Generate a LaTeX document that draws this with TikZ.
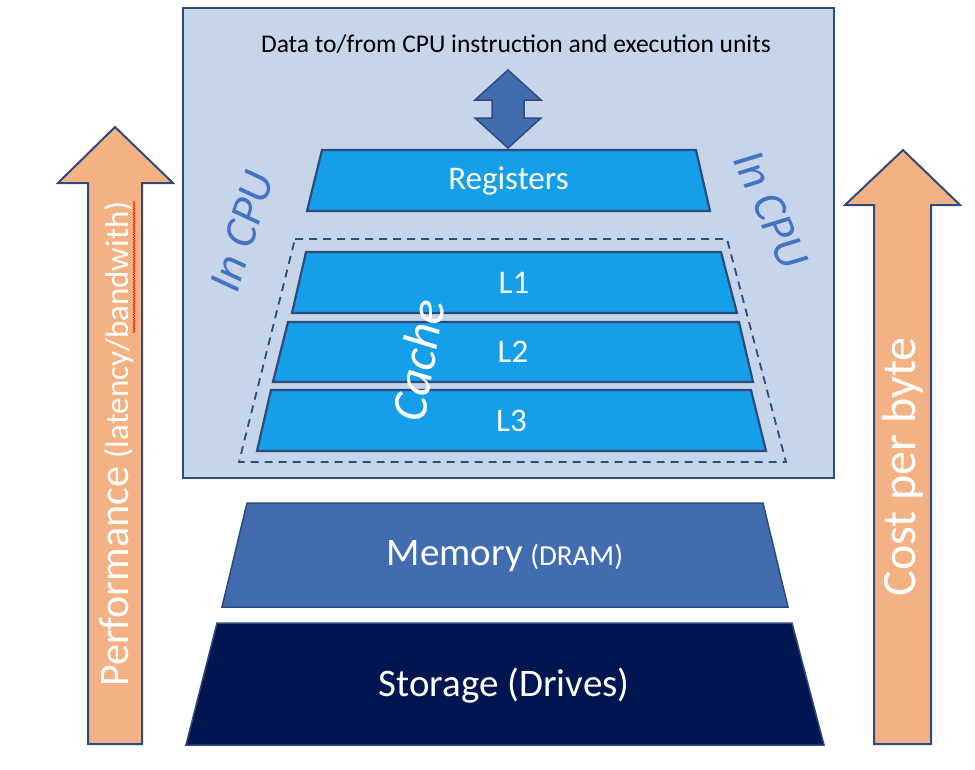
\documentclass[tikz,border=0pt]{standalone}
\usepackage{fontspec}
\setmainfont{Carlito}
\usetikzlibrary{decorations.pathmorphing}
\definecolor{cpubg}{HTML}{C7D5EB}
\definecolor{edge}{HTML}{2F4B7C}
\definecolor{levelblue}{HTML}{149FE8}
\definecolor{dramblue}{HTML}{416DB0}
\definecolor{drivenavy}{HTML}{001650}
\definecolor{peach}{HTML}{F4B183}
\definecolor{cpulabel}{HTML}{4472C4}
\newcommand{\fsz}[1]{\fontsize{#1}{#1}\selectfont}
\tikzset{
  level/.style={draw=edge, line width=2.2pt, fill=levelblue, line join=miter},
  lvltext/.style={text=white, inner sep=0pt, font=\fsz{33}},
  bigarrow/.style={draw=edge, line width=2pt, fill=peach, line join=miter},
  side/.style={text=white, rotate=90, inner sep=0pt},
  incpu/.style={text=cpulabel, font=\fsz{46}\itshape, inner sep=0pt}
}
\begin{document}
\begin{tikzpicture}[x=1pt, y=-1pt]
\useasboundingbox (0,0) rectangle (975,769);
% CPU box
\node[draw=edge, fill=cpubg, line width=1.8pt, minimum width=651pt, minimum height=470pt, inner sep=0pt] (cpu) at (508.5,243) {};
\node[font=\fsz{25.5}, inner sep=0pt] (title) at (516,44) {Data to/from CPU instruction and execution units};
% data path
\draw[draw=edge, line width=1.5pt, fill=dramblue, line join=miter]
  (508,70) -- (541,100) -- (524,100) -- (524,118) -- (541,118) -- (508,148)
  -- (475,118) -- (492,118) -- (492,100) -- (475,100) -- cycle;
% levels
\draw[level] (322,150) -- (696,150) -- (710,211) -- (307,211) -- cycle;
\node[lvltext] (reg) at (508.5,181) {Registers};
\draw[level] (306,252) -- (721,252) -- (737,313) -- (292,313) -- cycle;
\node[lvltext] (l1) at (514,283) {L1};
\draw[level] (288,322) -- (739,322) -- (753,382) -- (273,382) -- cycle;
\node[lvltext] (l2) at (513,352) {L2};
\draw[level] (271,390) -- (751,390) -- (766,451) -- (257,451) -- cycle;
\node[lvltext] (l3) at (511.5,421) {L3};
\draw[draw=edge, line width=1.8pt, dash pattern=on 8pt off 6pt] (295,239) -- (727,239) -- (786,462) -- (239,462) -- cycle;
\node[side, rotate=-10, font=\fsz{50}\itshape] (cache) at (418,360) {Cache};
\node[incpu, rotate=72] (cpuleft) at (242,231) {In CPU};
\node[incpu, rotate=-66] (cpuright) at (771,210) {In CPU};
% memory and storage
\draw[level, fill=dramblue, line width=1.5pt] (247,503) -- (763,503) -- (788,607) -- (222,607) -- cycle;
\node[lvltext] (mem) at (505,556) {{\fsz{39}Memory} {\fsz{29}(DRAM)}};
\draw[level, fill=drivenavy, line width=1.5pt] (217,623) -- (792,623) -- (824,745) -- (186,745) -- cycle;
\node[lvltext, font=\fsz{39}] (disk) at (504,686) {Storage (Drives)};
% side arrows
\draw[bigarrow] (115,127) -- (173,183) -- (142,183) -- (142,744) -- (88,744) -- (88,183) -- (58,183) -- cycle;
\draw[bigarrow] (903,150) -- (960,205) -- (931,205) -- (931,744) -- (874,744) -- (874,205) -- (845,205) -- cycle;
\node[side] (perf) at (117,444) {{\fsz{42}Performance}\hspace{9pt}{\fsz{33}(latency/bandwith)}};
\node[side, font=\fsz{48}] (cost) at (903,467) {Cost per byte};
\coordinate (sq1) at (134,333);
\coordinate (sq2) at (134,201);
\draw[red, line width=0.6pt, decorate, decoration={snake, amplitude=0.8pt, segment length=2.5pt}] (sq1) -- (sq2);
\end{tikzpicture}
\end{document}
